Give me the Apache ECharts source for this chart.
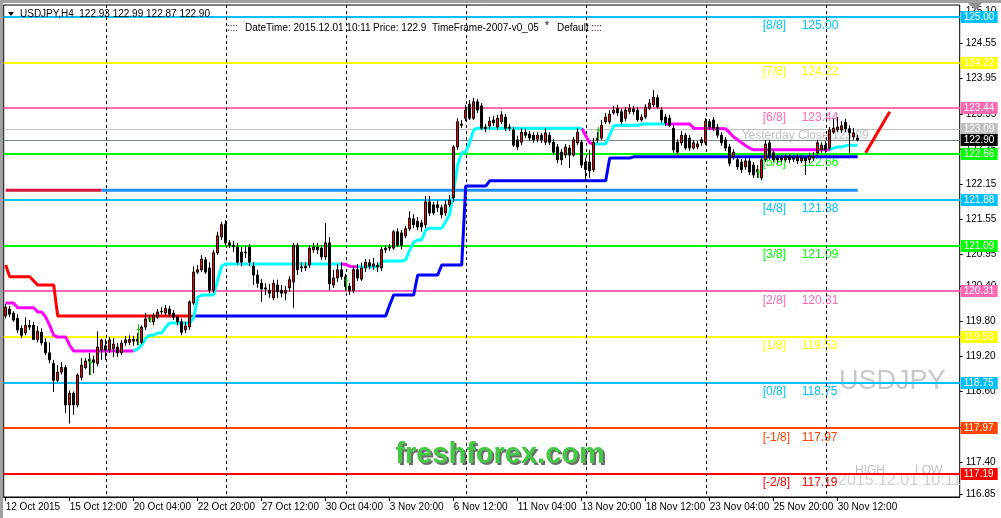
<!DOCTYPE html>
<html><head><meta charset="utf-8">
<script src="https://cdn.jsdelivr.net/npm/echarts/dist/echarts.min.js"></script>
<style>html,body{margin:0;padding:0;background:#fff}#c{width:1001px;height:518px}</style>
</head><body><div id="c"></div>
<script>
// ---------------- DATA ----------------
const opens=[
119.89,120.01,119.94,119.85,119.68,119.60,119.73,119.73,119.49,119.61,
119.44,119.26,119.08,118.79,118.93,119.01,118.37,118.57,118.37,118.84,
119.01,119.12,119.14,119.08,119.31,119.38,119.31,119.33,119.36,119.26,
119.43,119.44,119.46,119.49,119.44,119.70,119.84,119.79,119.87,119.96,
119.94,120.01,119.94,119.87,119.79,119.65,119.70,120.11,120.64,120.68,
120.85,120.71,120.33,120.97,121.24,121.46,121.14,121.10,121.07,120.98,
120.97,121.07,120.74,120.59,120.45,120.37,120.33,120.20,120.42,120.33,
120.28,120.37,120.47,121.10,120.73,120.74,120.76,121.02,121.07,121.05,
120.90,121.14,120.42,120.54,120.68,120.56,120.40,120.32,120.68,120.52,
120.71,120.80,120.74,120.76,120.71,121.02,121.05,121.05,121.33,121.31,
121.26,121.38,121.55,121.51,121.48,121.45,121.84,121.79,121.79,121.74,
121.65,121.79,121.91,122.78,123.15,123.27,123.51,123.27,123.55,123.48,
123.12,123.14,123.24,123.12,123.21,123.29,123.12,123.07,122.90,122.86,
123.03,123.00,122.98,122.91,122.98,122.86,122.98,122.86,122.78,122.69,
122.64,122.76,122.64,122.85,122.86,122.52,122.52,122.39,122.90,122.93,
123.21,123.21,123.36,123.44,123.38,123.27,123.38,123.43,123.41,123.24,
123.29,123.44,123.50,123.62,123.41,123.29,123.27,123.10,122.86,122.85,
122.98,122.93,122.76,122.78,122.90,122.85,123.21,123.24,123.12,122.98,
122.90,122.78,122.61,122.56,122.52,122.44,122.54,122.47,122.35,122.25,
122.56,122.85,122.68,122.59,122.56,122.56,122.61,122.57,122.61,122.54,
122.59,122.56,122.61,122.68,122.73,122.81,122.76,123.03,123.07,123.07,
123.20,123.09,122.95,122.93];
const closes=[
120.04,119.92,119.82,119.65,119.56,119.73,119.70,119.49,119.63,119.43,
119.26,119.14,118.79,118.93,119.01,118.37,118.57,118.37,118.88,119.05,
119.12,119.15,119.10,119.36,119.48,119.31,119.48,119.41,119.26,119.43,
119.48,119.49,119.49,119.46,119.70,119.84,119.85,119.90,119.96,119.97,
120.02,119.92,119.87,119.79,119.61,119.72,120.13,120.64,120.68,120.86,
120.64,120.33,120.97,121.26,121.45,121.14,121.10,121.07,120.81,120.81,
120.98,120.81,120.59,120.45,120.35,120.35,120.28,120.45,120.30,120.28,
120.33,120.51,121.10,120.68,120.71,120.71,121.05,121.07,121.02,120.90,
121.14,120.44,120.54,120.68,120.56,120.39,120.32,120.68,120.54,120.71,
120.81,120.74,120.78,120.73,121.03,121.05,121.07,121.33,121.10,121.10,
121.38,121.56,121.45,121.41,121.41,121.84,121.65,121.65,121.74,121.62,
121.79,121.87,122.78,123.21,123.17,123.41,123.27,123.55,123.41,123.10,
123.09,123.22,123.19,123.27,123.33,123.10,123.10,122.81,122.78,123.03,
122.98,122.93,122.90,122.98,122.90,123.02,122.86,122.69,122.56,122.56,
122.78,122.64,122.90,123.03,122.47,122.39,122.37,122.86,122.93,123.15,
123.29,123.34,123.41,123.36,123.21,123.41,123.44,123.38,123.24,123.29,
123.46,123.53,123.63,123.46,123.24,123.19,123.15,122.73,122.69,122.98,
122.76,122.76,122.85,122.83,122.85,123.22,123.12,123.10,122.98,122.85,
122.76,122.50,122.69,122.44,122.39,122.54,122.35,122.30,122.39,122.56,
122.83,122.61,122.56,122.56,122.59,122.61,122.56,122.59,122.54,122.59,
122.54,122.62,122.59,122.85,122.81,122.73,123.07,123.10,123.12,123.14,
123.09,123.02,123.02,122.90];
const lows=[
119.85,119.87,119.79,119.60,119.51,119.56,119.65,119.48,119.44,119.39,
119.22,119.08,118.59,118.76,118.89,118.23,118.05,118.20,118.33,118.79,
118.98,118.88,118.91,119.03,119.14,119.14,119.26,119.19,119.19,119.22,
119.38,119.39,119.38,119.39,119.41,119.65,119.79,119.73,119.84,119.92,
119.89,119.87,119.82,119.73,119.56,119.60,119.65,120.08,120.61,120.64,
120.61,120.28,120.28,120.93,121.19,121.10,121.05,120.98,120.76,120.74,
120.88,120.74,120.42,120.37,120.13,120.25,120.20,120.16,120.20,120.21,
120.16,120.30,120.03,120.59,120.64,120.66,120.71,120.97,120.95,120.85,
120.85,120.33,120.37,120.47,120.51,120.32,120.25,120.28,120.49,120.49,
120.64,120.69,120.68,120.64,120.66,120.97,121.00,121.02,121.07,121.03,
121.22,121.34,121.39,121.36,121.33,121.39,121.60,121.62,121.67,121.56,
121.60,121.75,121.84,122.73,123.10,123.22,123.24,123.24,123.36,123.07,
123.03,123.09,123.14,123.07,123.17,123.05,123.05,122.78,122.73,122.81,
122.93,122.88,122.85,122.86,122.85,122.81,122.81,122.64,122.50,122.47,
122.59,122.42,122.61,122.81,122.42,122.18,122.25,122.35,122.85,122.90,
123.17,123.17,123.33,123.31,123.17,123.22,123.34,123.33,123.21,123.21,
123.26,123.41,123.46,123.43,123.19,123.14,123.12,122.68,122.64,122.80,
122.73,122.71,122.73,122.74,122.80,122.81,123.07,123.05,122.93,122.80,
122.71,122.45,122.56,122.39,122.33,122.39,122.30,122.25,122.25,122.21,
122.52,122.56,122.52,122.50,122.52,122.52,122.50,122.52,122.49,122.50,
122.30,122.50,122.54,122.62,122.68,122.68,122.73,123.00,123.03,123.02,
123.03,122.68,122.90,122.87];
const highs=[
120.10,120.06,119.97,119.92,119.73,119.87,119.82,119.79,119.72,119.68,
119.51,119.44,119.14,119.05,119.10,119.05,118.62,118.60,118.91,119.17,
119.17,119.26,119.21,119.63,119.50,119.50,119.53,119.51,119.43,119.48,
119.55,119.56,119.55,119.60,119.73,119.94,119.90,119.94,120.01,120.04,
120.08,120.06,119.99,119.90,119.85,119.79,120.16,120.74,120.76,120.93,
120.90,120.81,121.02,121.33,121.50,121.53,121.19,121.17,121.14,121.07,
121.10,121.12,120.81,120.68,120.52,120.45,120.44,120.51,120.51,120.42,
120.40,120.57,121.14,121.14,120.81,120.81,121.10,121.14,121.14,121.10,
121.48,121.24,120.68,120.78,120.81,120.61,120.45,120.74,120.78,120.80,
120.86,120.86,120.88,120.81,121.07,121.10,121.12,121.36,121.39,121.36,
121.43,121.68,121.63,121.58,121.53,121.94,121.94,121.84,121.86,121.79,
121.87,121.96,122.81,123.27,123.24,123.50,123.58,123.62,123.60,123.53,
123.17,123.29,123.31,123.33,123.39,123.34,123.17,123.12,122.97,123.10,
123.09,123.05,123.03,123.03,123.02,123.10,123.03,122.91,122.83,122.74,
122.83,122.81,122.95,123.10,122.90,122.59,122.73,122.93,123.03,123.24,
123.36,123.41,123.48,123.50,123.43,123.46,123.51,123.48,123.46,123.34,
123.51,123.60,123.75,123.67,123.46,123.34,123.33,123.15,122.91,123.05,
123.02,122.98,122.90,122.88,122.95,123.27,123.26,123.29,123.17,123.03,
122.95,122.83,122.74,122.61,122.57,122.59,122.59,122.52,122.47,122.61,
122.90,122.90,122.73,122.64,122.64,122.66,122.66,122.64,122.66,122.64,
122.62,122.68,122.69,122.90,122.86,122.88,123.12,123.26,123.29,123.22,
123.26,123.15,123.10,122.99];

// trailing stop (red above price, blue below price): [bar, price] corner points
const stopRed=[[0,120.76],[1,120.56],[6,120.56],[7,120.49],[8,120.42],[12,120.42],[13,119.89],[47,119.89]];
const stopBlue=[[47,119.89],[95,119.89],[96,120.08],[97,120.25],[102,120.25],[103,120.59],[108,120.59],[109,120.76],[114,120.76],[115,122.11],[120,122.11],[121,122.20],[150,122.20],[151,122.59],[156,122.59],[157,122.61],[213,122.61]];
// trend line: magenta (down) and cyan (up) segments
const trendDownSegs=[
 [[0,120.11],[2,120.11],[3,120.03],[7,120.03],[8,119.96],[9,119.96],[10,119.87],[11,119.73],[12,119.56],[13,119.53],[15,119.53],[16,119.39],[17,119.29],[32,119.29]],
 [[84,120.78],[85,120.77],[86,120.74],[87,120.73],[88,120.73]],
 [[144,123.10],[145,122.97],[146,122.85],[147,122.83]],
 [[165,123.17],[171,123.17],[172,123.10],[180,123.09],[181,123.02],[182,122.95],[183,122.90],[184,122.85],[185,122.80],[186,122.76],[187,122.73],[206,122.73]]
];
const trendUpSegs=[
 [[32,119.29],[33,119.33],[34,119.39],[35,119.51],[36,119.56],[37,119.56],[38,119.60],[39,119.60],[40,119.70],[41,119.77],[46,119.77],[47,119.86],[48,120.21],[49,120.25],[52,120.25],[53,120.51],[54,120.74],[55,120.78],[84,120.78]],
 [[88,120.73],[93,120.73],[94,120.81],[95,120.83],[99,120.83],[100,120.85],[101,121.02],[102,121.15],[103,121.19],[104,121.19],[105,121.36],[106,121.39],[109,121.39],[110,121.50],[111,121.63],[112,122.04],[113,122.47],[114,122.68],[115,122.69],[116,122.85],[117,123.07],[118,123.10],[144,123.10]],
 [[147,122.83],[150,122.83],[151,122.98],[152,123.14],[153,123.15],[158,123.15],[159,123.17],[165,123.17]],
 [[206,122.73],[207,122.76],[208,122.78],[209,122.78],[210,122.80],[211,122.81],[213,122.81]]
];
const pivotRed=[[0,122.04],[24,122.04]];
const pivotBlue=[[24,122.04],[213,122.04]];
const forecastLine=[[215,122.68],[221,123.38]];
// signal arrows: bar, top price, bottom price
const arrowBars=[21,33,36,85,148,188];
const arrowTops=[119.17,119.75,119.86,120.56,123.12,122.39];
const arrowBottoms=[118.88,119.39,119.78,120.33,122.90,122.25];

const xLabels=['12 Oct 2015','15 Oct 12:00','20 Oct 04:00','22 Oct 20:00','27 Oct 12:00','30 Oct 04:00','3 Nov 20:00','6 Nov 12:00','11 Nov 04:00','13 Nov 20:00','18 Nov 12:00','23 Nov 04:00','25 Nov 20:00','30 Nov 12:00'];
const yTicks=[125.10,124.55,123.95,123.35,122.75,122.15,121.55,120.95,120.40,119.80,119.20,118.60,118.00,117.40,116.85];
const weekStarts=[25,55,85,115,145,175,205];

const levels=[125.00,124.22,123.44,122.66,121.88,121.09,120.31,119.53,118.75,117.97,117.19];
const levelNames=['[8/8]','[7/8]','[6/8]','[5/8]','[4/8]','[3/8]','[2/8]','[1/8]','[0/8]','[-1/8]','[-2/8]'];
const levelColors=['#00BFFF','#FFFF00','#FF69B4','#00FF00','#00BFFF','#00FF00','#FF69B4','#FFFF00','#00BFFF','#FF4500','#FF0000'];
const yesterdayClose=123.09;
const lastPrice=122.90;
const tagValues=[125.00,124.22,123.44,123.09,122.90,122.66,121.88,121.09,120.31,119.53,118.75,117.97,117.19];
const tagColors=['#00BFFF','#FFFF00','#FF69B4','#C0C0C0','#000000','#00FF00','#00BFFF','#00FF00','#FF69B4','#FFFF00','#00BFFF','#FF4500','#FF0000'];

// ---------------- CHART ----------------
const NB=239;
const cats=Array.from({length:NB},(_,i)=>'b'+i);
const showLbl=(i)=> i%16===0 && i/16<xLabels.length;
const F='"Liberation Sans", Arial, sans-serif';

function lineS(data,color,width,z){return {type:'line',data:data,symbol:'none',showSymbol:false,silent:true,z:z,
  lineStyle:{color:color,width:width},itemStyle:{color:color},animation:false,clip:true};}

const series=[];
// watermark
series.push({type:'custom',z:0,silent:true,clip:true,data:[[0,120]],renderItem:(p,api)=>({type:'group',children:[
  {type:'text',x:839,y:382,style:{text:'USDJPY',font:'27px '+F,fill:'#c8c8c8',align:'left',verticalAlign:'middle'}},
  {type:'text',x:855,y:471,style:{text:'HIGH',font:'12px '+F,fill:'#c0c0c0',align:'left',verticalAlign:'middle'}},
  {type:'text',x:915,y:471,style:{text:'LOW',font:'12px '+F,fill:'#c0c0c0',align:'left',verticalAlign:'middle'}},
  {type:'text',x:838,y:481,style:{text:'2015.12.01 10:11',font:'16px '+F,fill:'#d0d0d0',align:'left',verticalAlign:'middle'}}
]})});
// level lines
series.push({type:'custom',z:1,silent:true,clip:true,data:levels.map(v=>[0,v]),renderItem:(p,api)=>{
  const y=Math.round(api.coord([0,api.value(1)])[1]);const cs=p.coordSys;
  return {type:'line',shape:{x1:cs.x,y1:y,x2:cs.x+cs.width,y2:y},style:{stroke:levelColors[p.dataIndex],lineWidth:2}};}});
// level text labels
series.push({type:'custom',z:1,silent:true,clip:true,data:levels.map(v=>[189,v]),renderItem:(p,api)=>{
  const pt=api.coord([189,api.value(1)]);const c=levelColors[p.dataIndex];
  return {type:'group',children:[
    {type:'text',x:pt[0]+1,y:pt[1]+9,style:{text:levelNames[p.dataIndex],font:'12px '+F,fill:c,align:'left',verticalAlign:'middle'}},
    {type:'text',x:pt[0]+40,y:pt[1]+9,style:{text:api.value(1).toFixed(2),font:'12px '+F,fill:c,align:'left',verticalAlign:'middle'}}]};}});
// yesterday close + current price lines
series.push({type:'custom',z:1,silent:true,clip:true,data:[[0,yesterdayClose],[0,lastPrice]],renderItem:(p,api)=>{
  const y=Math.round(api.coord([0,api.value(1)])[1])+0.5;const cs=p.coordSys;
  const col=p.dataIndex===0?'#C0C0C0':'#778899';
  const ch=[{type:'line',shape:{x1:cs.x,y1:y,x2:cs.x+cs.width,y2:y},style:{stroke:col,lineWidth:1}}];
  if(p.dataIndex===0){const xx=api.coord([184,0])[0];
    ch.push({type:'text',x:xx,y:y+6,style:{text:'Yesterday Close '+api.value(1).toFixed(2),font:'12px '+F,fill:'#C0C0C0',align:'left',verticalAlign:'middle'}});}
  return {type:'group',children:ch};}});
// weekly separators
series.push({type:'custom',z:2,silent:true,clip:true,data:weekStarts.map(b=>[b,120]),renderItem:(p,api)=>{
  const x=Math.round(api.coord([api.value(0),120])[0])+0.5;const cs=p.coordSys;
  return {type:'line',shape:{x1:x,y1:cs.y,x2:x,y2:cs.y+cs.height},style:{stroke:'#000',lineWidth:1,lineDash:[3,3]}};}});
// indicators
series.push(lineS(pivotRed,'#DC143C',3,3));
series.push(lineS(pivotBlue,'#1E90FF',3,3));
series.push(lineS(stopRed,'#FF0000',3,3));
series.push(lineS(stopBlue,'#0000FF',3,3));
trendDownSegs.forEach(s=>series.push(lineS(s,'#FF00FF',3,3)));
trendUpSegs.forEach(s=>series.push(lineS(s,'#00FFFF',3,3)));
series.push(lineS(forecastLine,'#FF0000',3,3));
// candles
series.push({type:'candlestick',z:4,silent:true,barWidth:3,
  data:opens.map((o,i)=>[o,closes[i],lows[i],highs[i]]),
  itemStyle:{color:'#FF0000',color0:'#000000',borderColor:'#000000',borderColor0:'#000000',borderWidth:1}});
// arrows
series.push({type:'custom',z:5,silent:true,clip:true,data:arrowBars.map((b,i)=>[b,arrowTops[i],arrowBottoms[i]]),renderItem:(p,api)=>{
  const a=api.coord([api.value(0),api.value(1)]);const b=api.coord([api.value(0),api.value(2)]);
  const x=Math.round(a[0])+0.5;const ty=a[1]+(b[1]-a[1])*0.25;
  return {type:'group',children:[
    {type:'line',shape:{x1:x,y1:a[1],x2:x,y2:b[1]},style:{stroke:'#00CC00',lineWidth:1}},
    {type:'line',shape:{x1:x-2,y1:ty,x2:x+2,y2:ty},style:{stroke:'#00CC00',lineWidth:1}}]};}});
// right axis labels
series.push({type:'custom',z:6,silent:true,clip:false,data:yTicks.map(v=>[0,v]),renderItem:(p,api)=>{
  const y=Math.round(api.coord([0,api.value(1)])[1])+0.5;const x0=p.coordSys.x+p.coordSys.width;
  return {type:'group',children:[
    {type:'line',shape:{x1:x0,y1:y,x2:x0+3,y2:y},style:{stroke:'#000',lineWidth:1}},
    {type:'text',x:x0+6,y:y,style:{text:api.value(1).toFixed(2),font:'10px '+F,fill:'#000',align:'left',verticalAlign:'middle'}}]};}});
// price tags
series.push({type:'custom',z:7,silent:true,clip:false,data:tagValues.map(v=>[0,v]),renderItem:(p,api)=>{
  const y=Math.round(api.coord([0,api.value(1)])[1]);const x0=p.coordSys.x+p.coordSys.width;
  return {type:'group',children:[
    {type:'rect',shape:{x:x0+1,y:y-6,width:37,height:12},style:{fill:tagColors[p.dataIndex]}},
    {type:'text',x:x0+4,y:y,style:{text:api.value(1).toFixed(2),font:'10px '+F,fill:'#fff',align:'left',verticalAlign:'middle'}}]};}});

const option={
  animation:false,backgroundColor:'#fff',
  grid:{left:3.7,right:41.3,top:5,bottom:21,show:true,borderColor:'#000',borderWidth:1,backgroundColor:'#fff',containLabel:false,outerBoundsMode:'none'},
  xAxis:{type:'category',data:cats,boundaryGap:true,
    axisLine:{show:true,lineStyle:{color:'#000'}},
    axisTick:{show:true,interval:(i)=>showLbl(i),alignWithLabel:true,length:4,lineStyle:{color:'#000'}},
    axisLabel:{interval:(i)=>showLbl(i),formatter:(v,i)=>xLabels[i/16]||'',align:'left',margin:5,fontSize:10,fontFamily:'Liberation Sans',color:'#000'},
    splitLine:{show:false}},
  yAxis:{type:'value',min:116.7963,max:125.2051,position:'right',scale:true,
    axisLine:{show:false},axisTick:{show:false},axisLabel:{show:false},splitLine:{show:false}},
  graphic:[
    {type:'rect',shape:{x:0,y:0,width:1001,height:3},style:{fill:'#a0a0a0'},z:100},
    {type:'rect',shape:{x:0,y:0,width:3,height:518},style:{fill:'#a0a0a0'},z:100},
    {type:'polygon',shape:{points:[[968,3],[982,3],[975,10]]},style:{fill:'#909090'},z:100},
    {type:'polygon',shape:{points:[[8,12],[14,12],[11,16]]},style:{fill:'#000'},z:100},
    {type:'text',x:20,y:14,style:{text:'USDJPY,H4  122.93 122.99 122.87 122.90',font:'10px '+F,fill:'#000',verticalAlign:'middle'},z:100},
    {type:'text',x:227,y:28,style:{text:'::::',font:'10px '+F,fill:'#400040',verticalAlign:'middle'},z:100},
    {type:'text',x:245,y:28,style:{text:'DateTime: 2015.12.01 10:11',font:'10px '+F,fill:'#000',verticalAlign:'middle'},z:100},
    {type:'text',x:373,y:28,style:{text:'Price: 122.9',font:'10px '+F,fill:'#000',verticalAlign:'middle'},z:100},
    {type:'text',x:432,y:28,style:{text:'TimeFrame-2007-v0_05',font:'10px '+F,fill:'#000',verticalAlign:'middle'},z:100},
    {type:'text',x:545,y:26,style:{text:'*',font:'10px '+F,fill:'#000',verticalAlign:'middle'},z:100},
    {type:'text',x:557,y:28,style:{text:'Default',font:'10px '+F,fill:'#000',verticalAlign:'middle'},z:100},
    {type:'text',x:591,y:28,style:{text:'::::',font:'10px '+F,fill:'#400040',verticalAlign:'middle'},z:100},
    {type:'text',x:502,y:457,style:{text:'freshforex.com',font:'bold 29px '+F,fill:'rgba(60,60,60,0.75)',align:'center',verticalAlign:'middle'},z:100},
    {type:'text',x:500,y:455,style:{text:'freshforex.com',font:'bold 29px '+F,fill:'#45c845',align:'center',verticalAlign:'middle'},z:101}
  ],
  series:series
};
const chart=echarts.init(document.getElementById('c'),null,{renderer:'canvas'});
chart.setOption(option);
</script></body></html>
